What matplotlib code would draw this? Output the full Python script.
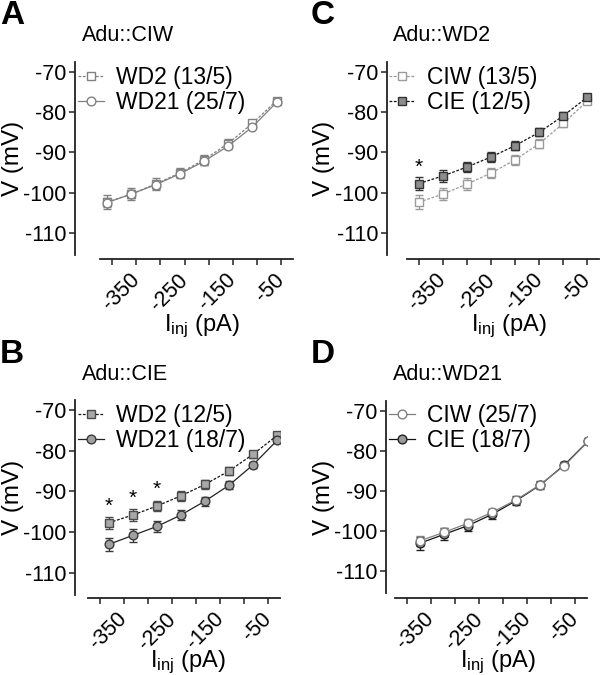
import numpy as np
import matplotlib.pyplot as plt

plt.rcParams['font.family'] = ['Liberation Sans', 'DejaVu Sans']
plt.rcParams['mathtext.fontset'] = 'custom'
plt.rcParams['mathtext.rm'] = 'Liberation Sans'
plt.rcParams['mathtext.it'] = 'Liberation Sans:italic'
plt.rcParams['axes.unicode_minus'] = False

# injected current steps (pA)
currents = np.array([-400, -350, -300, -250, -200, -150, -100, -50])

# membrane potential (mV), mean and sem
wd2_ciw = [-102.3, -100.3, -97.8, -95.1, -91.8, -87.8, -82.8, -77.2]
wd2_ciw_sem = [1.7, 1.5, 1.4, 1.3, 1.2, 1.1, 0.9, 0.7]
wd21_ciw = [-102.4, -100.3, -98.0, -95.3, -92.2, -88.4, -83.7, -77.6]
wd21_ciw_sem = [1.2, 1.1, 1.0, 0.9, 0.8, 0.7, 0.6, 0.5]
wd2_cie = [-97.7, -95.8, -93.6, -91.1, -88.3, -85.0, -80.9, -76.3]
wd2_cie_sem = [1.5, 1.4, 1.3, 1.2, 1.1, 1.0, 0.8, 0.6]
wd21_cie = [-103.0, -100.8, -98.6, -95.8, -92.4, -88.5, -83.5, -77.5]
wd21_cie_sem = [1.6, 1.5, 1.4, 1.2, 1.1, 1.0, 0.8, 0.7]

stars_b = [0, 1, 2]
stars_c = [0]

W, H = 600, 675
fig = plt.figure(figsize=(6, 6.75), dpi=100)


def make_axes(x0, y_top, w, h, left_off, bottom_off):
    ax = fig.add_axes([x0 / W, 1 - (y_top + h) / H, w / W, h / H])
    ax.set_xlim(-425, -26)
    ax.set_ylim(-115.4, -67.6)
    for s in ['top', 'right']:
        ax.spines[s].set_visible(False)
    ax.spines['left'].set_position(('outward', left_off * 0.72))
    ax.spines['bottom'].set_position(('outward', bottom_off * 0.72))
    for s in ['left', 'bottom']:
        ax.spines[s].set_linewidth(1.3)
        ax.spines[s].set_color('#222222')
    ax.set_yticks([-70, -80, -90, -100, -110])
    ax.set_xticks([-350, -250, -150, -50])
    ax.set_xticks([-400, -300, -200, -100], minor=True)
    ax.set_xticklabels(['-350', '-250', '-150', '-50'], rotation=45,
                       ha='right', va='center', rotation_mode='anchor')
    ax.tick_params(axis='both', which='both', direction='out', length=4,
                   width=1.1, color='#222222', labelsize=15.5, pad=2)
    ax.tick_params(axis='x', which='both', pad=9)
    return ax


def series(ax, shift, y, err, marker, face, edge, line, ls):
    eb = ax.errorbar(currents + shift, y, yerr=err, marker=marker, ms=6.3,
                     mfc=face, mec=edge, mew=1.0, color=line, ls=ls,
                     lw=0.9, ecolor=edge, elinewidth=0.9, capsize=3.2,
                     capthick=0.9,
                     dashes=(2.2, 1.3) if ls == '--' else (None, None))
    return eb[0]


def decorate(ax, letter, title, lx, ly, handles, labels, legx, legy):
    fig.text(lx / W, 1 - ly / H, letter, fontsize=24, fontweight='bold',
             ha='left', va='top')
    fig.text((lx + 82) / W, 1 - (ly + 41) / H, title, fontsize=15.5,
             ha='left', va='baseline')
    ax.legend(handles, labels, loc='upper left', frameon=False,
              bbox_to_anchor=(legx / W, 1 - legy / H),
              bbox_transform=fig.transFigure, fontsize=16.5,
              handlelength=1.15, handletextpad=0.5, labelspacing=0.08,
              borderpad=0, borderaxespad=0)


def axis_labels(xc, yc, xl, yl):
    fig.text(xc / W, 1 - yc / H, 'V (mV)', rotation=90, fontsize=17.5,
             ha='center', va='center')
    fig.text(xl / W, 1 - yl / H, r'I$_{\mathrm{inj}}$ (pA)', fontsize=17,
             ha='center', va='baseline')


# A
axA = make_axes(100, 62, 193, 193, 25, 4)
a1 = series(axA, -10, wd2_ciw, wd2_ciw_sem, 's', 'white', '#808080', '#808080', '--')
a2 = series(axA, -10, wd21_ciw, wd21_ciw_sem, 'o', 'white', '#808080', '#808080', '-')
decorate(axA, 'A', 'Adu::CIW', 0, 0, [a1, a2], ['WD2 (13/5)', 'WD21 (25/7)'], 78, 66)
axis_labels(13, 158, 202, 331)

# B
axB = make_axes(88, 400, 192, 195, 13, 3)
b1 = series(axB, 18, wd2_cie, wd2_cie_sem, 's', '#a8a8a8', '#4a4a4a', '#111111', '--')
b2 = series(axB, 18, wd21_cie, wd21_cie_sem, 'o', '#a0a0a0', '#3a3a3a', '#222222', '-')
decorate(axB, 'B', 'Adu::CIE', 0, 339, [b1, b2], ['WD2 (12/5)', 'WD21 (18/7)'], 78, 404)
for i in stars_b:
    axB.text(currents[i] + 18, wd2_cie[i] + 4.0, '*', fontsize=15,
             ha='center', va='center')
axis_labels(13, 497, 188, 667)

# C
axC = make_axes(407, 62, 192, 193, 20, 4)
c1 = series(axC, 0, wd2_ciw, wd2_ciw_sem, 's', 'white', '#9a9a9a', '#9a9a9a', '--')
c2 = series(axC, 0, wd2_cie, wd2_cie_sem, 's', '#8c8c8c', '#333333', '#111111', '--')
decorate(axC, 'C', 'Adu::WD2', 311, 0, [c1, c2], ['CIW (13/5)', 'CIE (12/5)'], 389, 66)
for i in stars_c:
    axC.text(currents[i], wd2_cie[i] + 4.0, '*', fontsize=15,
             ha='center', va='center')
axis_labels(324, 158, 509, 331)

# D
axD = make_axes(395, 401, 192, 192, 9, 5)
d2 = series(axD, 27, wd21_cie, wd21_cie_sem, 'o', '#9a9a9a', '#222222', '#111111', '-')
d1 = series(axD, 27, wd21_ciw, wd21_ciw_sem, 'o', 'white', '#808080', '#808080', '-')
decorate(axD, 'D', 'Adu::WD21', 311, 339, [d1, d2], ['CIW (25/7)', 'CIE (18/7)'], 389, 404)
axis_labels(324, 497, 498, 667)

fig.savefig('out.png', dpi=100)
